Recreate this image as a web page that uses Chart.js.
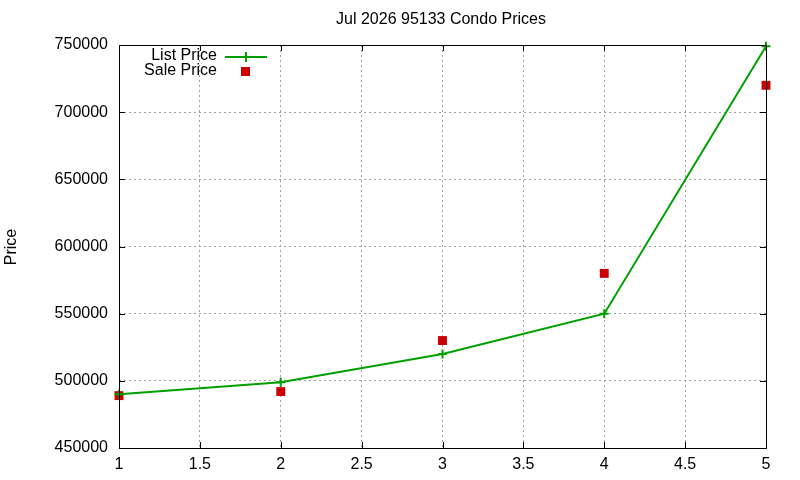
<!DOCTYPE html>
<html>
<head>
<meta charset="utf-8">
<script src="https://cdn.jsdelivr.net/npm/chart.js@4"></script>
<style>
  html, body { margin: 0; padding: 0; background: #fff; }
  #wrap { width: 800px; height: 480px; }
</style>
</head>
<body>
<div id="wrap"><canvas id="myChart" width="800" height="480"></canvas></div>
<script>
// Dados do gráfico
const chartTitle = 'Jul 2026 95133 Condo Prices';
const yAxisTitle = 'Price';
const xValues = [1, 2, 3, 4, 5];
const listPrice = [490000, 499000, 520000, 550000, 749000];
const salePrice = [489000, 492000, 530000, 580000, 720000];
const seriesNames = ['List Price', 'Sale Price'];

const FONT = '"Liberation Sans", Arial, sans-serif';
const GREEN = '#00a000';
const RED = '#cc0000';

// Plugin: caixa, marcas internas, título e legenda no estilo gnuplot
const gnuplotFrame = {
    id: 'gnuplotFrame',
    afterDraw(chart) {
        const ctx = chart.ctx;
        const a = chart.chartArea;
        const xs = chart.scales.x, ys = chart.scales.y;
        ctx.save();

        // marcas internas
        ctx.strokeStyle = '#000';
        ctx.lineWidth = 1;
        ctx.beginPath();
        xs.ticks.forEach(t => {
            const px = Math.round(xs.getPixelForValue(t.value)) + 0.5;
            ctx.moveTo(px, a.bottom); ctx.lineTo(px, a.bottom - 6);
            ctx.moveTo(px, a.top); ctx.lineTo(px, a.top + 6);
        });
        ys.ticks.forEach(t => {
            const py = Math.round(ys.getPixelForValue(t.value)) + 0.5;
            ctx.moveTo(a.left, py); ctx.lineTo(a.left + 6, py);
            ctx.moveTo(a.right, py); ctx.lineTo(a.right - 6, py);
        });
        ctx.stroke();

        // caixa
        ctx.strokeRect(Math.round(a.left) + 0.5, Math.round(a.top) + 0.5,
            Math.round(a.right - a.left), Math.round(a.bottom - a.top));

        // título
        ctx.fillStyle = '#000';
        ctx.font = '16px ' + FONT;
        ctx.textAlign = 'center';
        ctx.textBaseline = 'middle';
        ctx.fillText(chartTitle, 441, 20);

        // título do eixo Y
        ctx.save();
        ctx.translate(12, 247);
        ctx.rotate(-Math.PI / 2);
        ctx.fillText(yAxisTitle, 0, 0);
        ctx.restore();

        // legenda
        ctx.textAlign = 'right';
        ctx.fillText(seriesNames[0], 217, 56);
        ctx.fillText(seriesNames[1], 217, 71);
        ctx.strokeStyle = GREEN;
        ctx.lineWidth = 2;
        ctx.beginPath();
        ctx.moveTo(225, 57); ctx.lineTo(267, 57);
        ctx.moveTo(246, 52); ctx.lineTo(246, 62);
        ctx.stroke();
        ctx.fillStyle = RED;
        ctx.fillRect(241, 67, 9, 9);

        ctx.restore();
    }
};

const ctx = document.getElementById('myChart').getContext('2d');
const chart = new Chart(ctx, {
    type: 'line',
    data: {
        datasets: [{
            label: seriesNames[0],
            data: xValues.map((x, i) => ({ x: x, y: listPrice[i] })),
            borderColor: GREEN,
            backgroundColor: GREEN,
            borderWidth: 2,
            pointStyle: 'cross',
            pointRadius: 4.5,
            pointBorderWidth: 2,
            tension: 0,
            fill: false
        }, {
            label: seriesNames[1],
            data: xValues.map((x, i) => ({ x: x, y: salePrice[i] })),
            showLine: false,
            borderColor: RED,
            backgroundColor: RED,
            pointStyle: 'rect',
            pointRadius: 6.3,
            pointBorderWidth: 0
        }]
    },
    options: {
        responsive: false,
        animation: false,
        devicePixelRatio: 1,
        clip: false,
        layout: { padding: { top: 45, right: 34, left: 0, bottom: 0 } },
        plugins: {
            legend: { display: false },
            title: { display: false },
            tooltip: { enabled: false }
        },
        scales: {
            x: {
                type: 'linear',
                min: 1,
                max: 5,
                ticks: {
                    stepSize: 0.5,
                    color: '#000',
                    padding: 7,
                    maxRotation: 0,
                    font: { family: FONT, size: 16 },
                    callback: v => String(v)
                },
                grid: { color: '#a0a0a0', lineWidth: 1, drawTicks: false },
                border: { display: false, dash: [2, 3] },
                afterFit: s => { s.height = 32; }
            },
            y: {
                min: 450000,
                max: 750000,
                ticks: {
                    stepSize: 50000,
                    color: '#000',
                    padding: 11,
                    font: { family: FONT, size: 16 },
                    callback: v => String(v)
                },
                grid: { color: '#a0a0a0', lineWidth: 1, drawTicks: false },
                border: { display: false, dash: [2, 3] },
                afterFit: s => { s.width = 119; }
            }
        }
    },
    plugins: [gnuplotFrame]
});
</script>
</body>
</html>
